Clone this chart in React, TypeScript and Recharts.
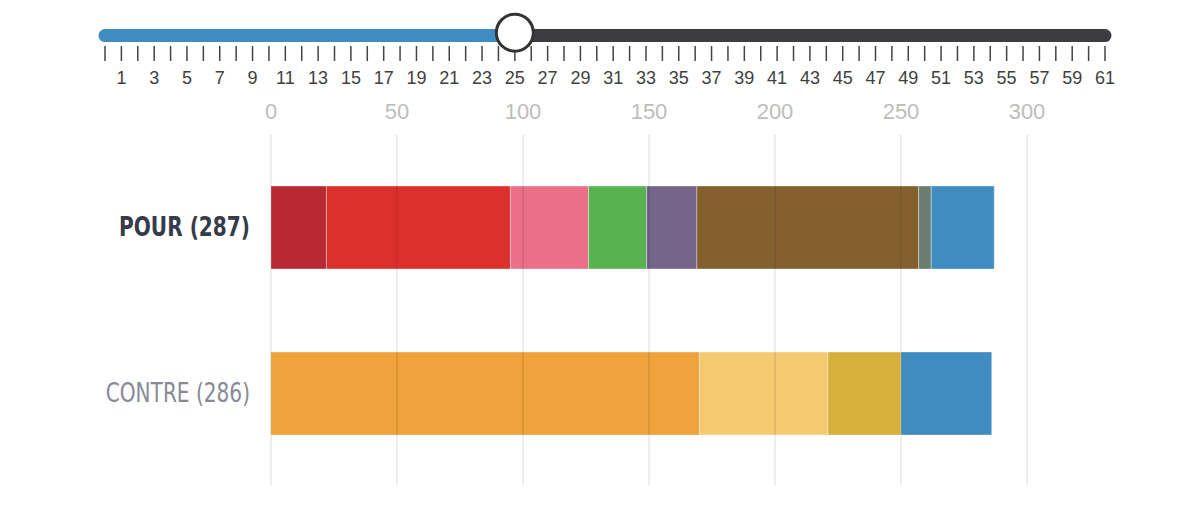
import React from "react";
import {
  BarChart, Bar, XAxis, YAxis, ReferenceLine, ComposedChart, ReferenceDot, Line,
} from "recharts";

// slider (legislature / session picker)
const sliderTicks = [
  0, 1, 2, 3, 4, 5, 6, 7, 8, 9, 10, 11, 12, 13, 14, 15, 16, 17, 18, 19, 20,
  21, 22, 23, 24, 25, 26, 27, 28, 29, 30, 31, 32, 33, 34, 35, 36, 37, 38, 39, 40,
  41, 42, 43, 44, 45, 46, 47, 48, 49, 50, 51, 52, 53, 54, 55, 56, 57, 58, 59, 60, 61,
];
const sliderMax = 61;
const sliderValue = 25;

// vote chart
const categories = ["POUR (287)", "CONTRE (286)"];
const axisTicks = [0, 50, 100, 150, 200, 250, 300];
const pourValues = [22, 73, 31, 23, 20, 88, 5, 25];
const pourColors = ["#b82933", "#dc302c", "#ec6f8a", "#57b34f", "#75658a", "#84602f", "#6b7c70", "#3f8cc0"];
const contreValues = [170, 51, 29, 36];
const contreColors = ["#f0a23c", "#f5c970", "#d8b13c", "#3f8cc0"];

const rows = categories.map((name, i) => {
  const row: Record<string, any> = { name };
  if (i === 0) pourValues.forEach((v, k) => (row["p" + k] = v));
  else contreValues.forEach((v, k) => (row["c" + k] = v));
  return row;
});

const sliderRows = sliderTicks.map((x) => ({ x, y: 0.5 }));

const numFont = "'Liberation Sans', Arial, sans-serif";
const labelFont = "'Liberation Sans Narrow', 'DejaVu Sans Condensed', 'Roboto', sans-serif";

function SliderTick(props: any) {
  const { x, y, payload } = props;
  if (payload.value % 2 === 0) return null;
  return (
    <text x={x} y={y} dy="0.71em" textAnchor="middle" fontSize={18} fill="#3f3f3f" fontFamily={numFont}>
      {payload.value}
    </text>
  );
}

function CategoryTick(props: any) {
  const { x, y, payload } = props;
  const first = payload.value === categories[0];
  return (
    <g transform={`translate(${x},${y}) scale(0.86,1)`}>
      <text
        x={0}
        y={0}
        dy="0.36em"
        textAnchor="end"
        fontSize={26}
        fontWeight={first ? 700 : 400}
        fill={first ? "#353b4a" : "#878a94"}
        fontFamily={labelFont}
      >
        {payload.value}
      </text>
    </g>
  );
}

export default function App() {
  return (
    <div style={{ position: "absolute", left: 0, top: 0, width: 1200, height: 520, background: "#fff" }}>
      {/* slider */}
      <div style={{ position: "absolute", left: 0, top: 0, width: 1200, height: 95 }}>
        <ComposedChart width={1200} height={95} data={sliderRows} margin={{ top: 27, right: 95, bottom: 9, left: 105 }}>
          <XAxis
            type="number"
            dataKey="x"
            domain={[0, sliderMax]}
            ticks={sliderTicks}
            interval={0}
            height={40}
            axisLine={false}
            tickSize={15}
            tickMargin={10}
            tickLine={{ stroke: "#444", strokeWidth: 1.5 }}
            tick={<SliderTick />}
          />
          <YAxis type="number" domain={[0, 1]} hide />
          <Line dataKey="y" stroke="none" dot={false} activeDot={false} isAnimationActive={false} />
          <ReferenceLine
            segment={[{ x: sliderValue, y: 0.55 }, { x: sliderMax, y: 0.55 }]}
            stroke="#3d3d3f"
            strokeWidth={13}
            strokeLinecap="round"
            ifOverflow="visible"
          />
          <ReferenceLine
            segment={[{ x: 0, y: 0.55 }, { x: sliderValue, y: 0.55 }]}
            stroke="#3f8cc0"
            strokeWidth={13}
            strokeLinecap="round"
            ifOverflow="visible"
          />
          <ReferenceDot
            x={sliderValue}
            y={0.7}
            r={18.5}
            fill="#fff"
            stroke="#333"
            strokeWidth={3}
            ifOverflow="visible"
          />
        </ComposedChart>
      </div>

      {/* stacked vote bars */}
      <div style={{ position: "absolute", left: 0, top: 82, width: 1200, height: 438 }}>
        <BarChart
          width={1200}
          height={438}
          data={rows}
          layout="vertical"
          barSize={83}
          margin={{ top: 0, right: 173, bottom: 35, left: 0 }}
        >
          <XAxis
            type="number"
            orientation="top"
            domain={[0, 300]}
            ticks={axisTicks}
            height={53}
            axisLine={false}
            tickLine={false}
            tickSize={0}
            tickMargin={16}
            tick={{ fontSize: 22, fill: "#bdbdbd", fontFamily: numFont }}
          />
          <YAxis
            type="category"
            dataKey="name"
            width={271}
            axisLine={false}
            tickLine={false}
            tickSize={0}
            tickMargin={21}
            padding={{ top: 9, bottom: 9 }}
            tick={<CategoryTick />}
          />
          {pourValues.map((_, k) => (
            <Bar
              key={"p" + k}
              dataKey={"p" + k}
              stackId="a"
              fill={pourColors[k]}
              stroke="#fff"
              strokeOpacity={0.35}
              strokeWidth={1}
              isAnimationActive={false}
            />
          ))}
          {contreValues.map((_, k) => (
            <Bar
              key={"c" + k}
              dataKey={"c" + k}
              stackId="a"
              fill={contreColors[k]}
              stroke="#fff"
              strokeOpacity={0.35}
              strokeWidth={1}
              isAnimationActive={false}
            />
          ))}
          {axisTicks.map((t) => (
            <ReferenceLine key={t} x={t} stroke="#000" strokeOpacity={0.1} strokeWidth={1.5} />
          ))}
        </BarChart>
      </div>
    </div>
  );
}
